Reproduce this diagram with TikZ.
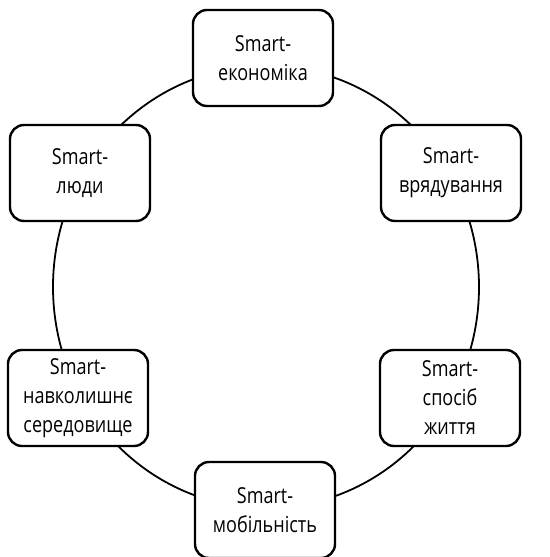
\documentclass[tikz,border=0pt]{standalone}
\usepackage{fontspec}
\setmainfont{Open Sans}[FakeStretch=0.82]
\usetikzlibrary{positioning}

\begin{document}
\begin{tikzpicture}[
    x=1pt, y=-1pt,
    box/.style={rectangle, draw=black, fill=white, line width=2.4pt, rounded corners=14pt, minimum width=140pt, minimum height=96pt, inner sep=0pt, align=center, font=\fontsize{22}{29}\selectfont},
    ring/.style={line width=1.8pt}
]
    \useasboundingbox (0,0) rectangle (549,557);

    % Ring behind the boxes
    \coordinate (centre) at (266,287);
    \draw[ring] (centre) ellipse [x radius=213pt, y radius=221pt];

    \node[box] (econ) at (263,58) {Smart-\\економіка};
    \node[box] (people) at (80,173) {Smart-\\люди};
    \node[box] (gov) at (451,173) {Smart-\\врядування};
    \node[box] (env) at (78,398) {Smart-\\навколишнє\\середовище};
    \node[box] (life) at (450,398) {Smart-\\спосіб\\життя};
    \node[box] (mob) at (265,510) {Smart-\\мобільність};
\end{tikzpicture}
\end{document}
